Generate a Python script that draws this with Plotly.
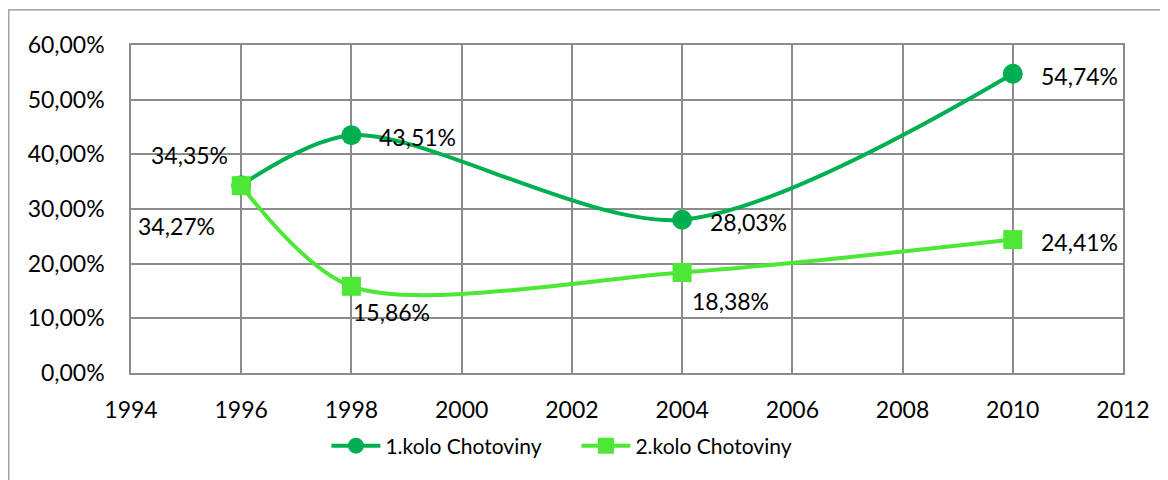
import plotly.graph_objects as go

years = [1996, 1998, 2004, 2010]
kolo1 = [34.35, 43.51, 28.03, 54.74]
kolo2 = [34.27, 15.86, 18.38, 24.41]
series_names = ["1.kolo Chotoviny", "2.kolo Chotoviny"]
x_ticks = [1994, 1996, 1998, 2000, 2002, 2004, 2006, 2008, 2010, 2012]
y_ticks = [0, 10, 20, 30, 40, 50, 60]

c1 = "#00B050"
c2 = "#4CE835"
font = "Lato, 'Open Sans', sans-serif"
fs = 23

def fmt(v):
    return f"{v:.2f}%".replace(".", ",")

fig = go.Figure()
fig.add_trace(go.Scatter(x=years, y=kolo1, name=series_names[0], mode="lines+markers",
                         line=dict(color=c1, width=4, shape="spline", smoothing=0.85),
                         marker=dict(symbol="circle", size=20, color=c1)))
fig.add_trace(go.Scatter(x=years, y=kolo2, name=series_names[1], mode="lines+markers",
                         line=dict(color=c2, width=4, shape="spline", smoothing=0.85),
                         marker=dict(symbol="square", size=19, color=c2)))

# label offsets (style): (xanchor, xshift, yshift)
off1 = [("center", -52, 30), ("left", 26, -2), ("left", 26, -2), ("left", 26, -2)]
off2 = [("center", -65, -40), ("left", 0, -26), ("left", 8, -28), ("left", 26, -2)]
for vals, offs in ((kolo1, off1), (kolo2, off2)):
    for xv, yv, (xa, xs, ys) in zip(years, vals, offs):
        fig.add_annotation(x=xv, y=yv, text=fmt(yv), showarrow=False,
                           xanchor=xa, yanchor="middle", xshift=xs, yshift=ys,
                           font=dict(family=font, size=fs, color="#000"))

# outer chart border
fig.add_shape(type="rect", xref="paper", yref="paper", x0=0.8 / 992 - 123 / 992, x1=1.06,
              y0=-0.35, y1=1.107,
              line=dict(color="#8c8c8c", width=1.2), fillcolor="rgba(0,0,0,0)", layer="below")

grid = "#8c8c8c"
fig.update_layout(
    width=1160, height=472,
    margin=dict(l=123, r=45, t=37, b=107),
    paper_bgcolor="white", plot_bgcolor="white",
    font=dict(family=font, size=fs, color="#000"),
    xaxis=dict(range=[1994, 2012], tickvals=x_ticks, showgrid=True, gridcolor=grid, gridwidth=1.5,
               showline=True, linecolor=grid, linewidth=1.5, mirror=True, zeroline=False,
               ticks="", ticklabelstandoff=16),
    yaxis=dict(range=[0, 60], tickvals=y_ticks, ticktext=[fmt(v) for v in y_ticks],
               showgrid=True, gridcolor=grid, gridwidth=1.5,
               showline=True, linecolor=grid, linewidth=1.5, mirror=True, zeroline=False,
               ticks="", ticklabelstandoff=20),
    legend=dict(orientation="h", x=0.197, xanchor="left", y=-0.2226, yanchor="middle",
                font=dict(family=font, size=21), itemwidth=49, entrywidth=186,
                bgcolor="rgba(0,0,0,0)"),
    showlegend=True,
)

fig.write_html("out.html")
